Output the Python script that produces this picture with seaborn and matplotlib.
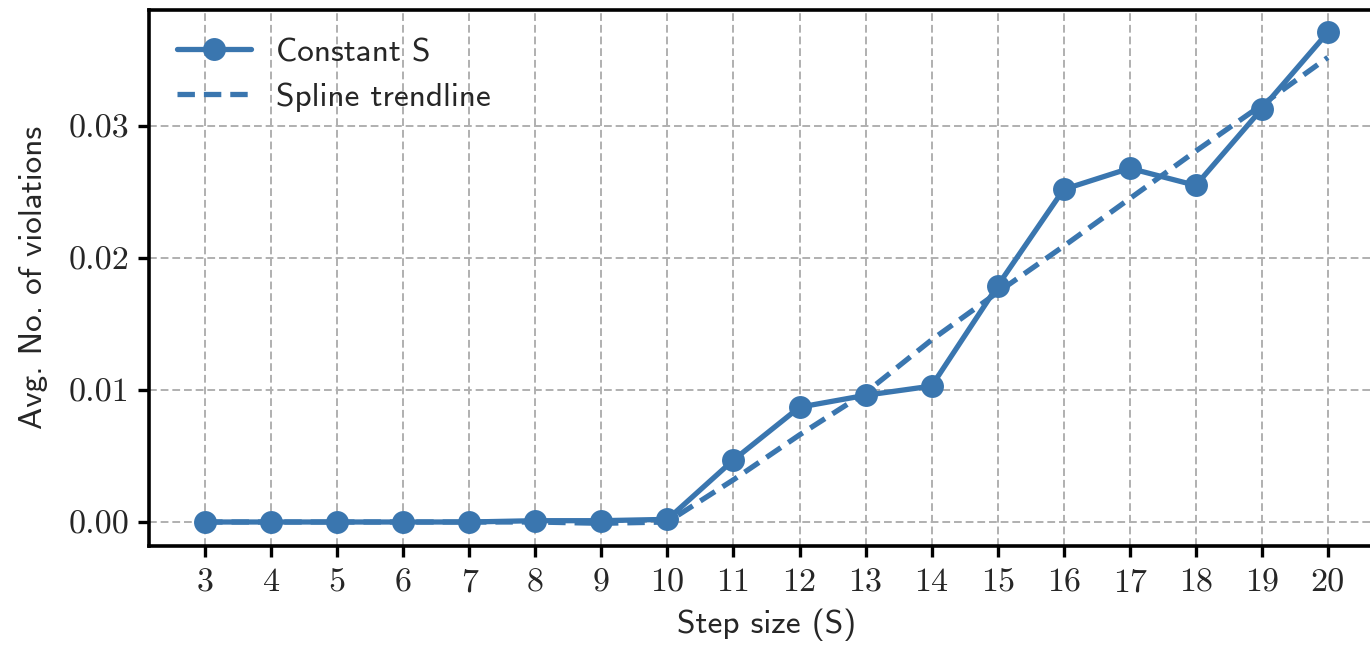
import matplotlib
matplotlib.use("Agg")
import matplotlib.pyplot as plt
import seaborn as sns
import pandas as pd

# ---- data ----
step_sizes = [3, 4, 5, 6, 7, 8, 9, 10, 11, 12, 13, 14, 15, 16, 17, 18, 19, 20]
constant_s = [0.0000, 0.0000, 0.0000, 0.0000, 0.0000, 0.0001, 0.0001, 0.0002,
              0.0047, 0.0087, 0.0096, 0.0103, 0.0179, 0.0252, 0.0268, 0.0255,
              0.0313, 0.0371]
spline_trend = [0.0000, 0.0000, 0.0000, 0.0000, 0.0000, 0.0000, -0.0001, 0.0000,
                0.0032, 0.0066, 0.0098, 0.0138, 0.0174, 0.0209, 0.0245, 0.0281,
                0.0316, 0.0352]
y_ticks = [0.00, 0.01, 0.02, 0.03]
y_tick_labels = ["0.00", "0.01", "0.02", "0.03"]
x_tick_labels = [str(s) for s in step_sizes]
series_labels = ["Constant S", "Spline trendline"]

sns.set_style("white")
plt.rcParams["axes.formatter.use_mathtext"] = True

color = "#3a76af"
W, H = 1370, 649
fig = plt.figure(figsize=(W / 100, H / 100), dpi=100)

left_px, right_px = 149, 149 + 1235
top_px, bottom_px = 9.5, 546
ax = fig.add_axes([left_px / W, (H - bottom_px) / H,
                   (right_px - left_px) / W, (bottom_px - top_px) / H])

df = pd.DataFrame({"S": step_sizes, "c": constant_s, "sp": spline_trend})
sns.lineplot(data=df, x="S", y="c", ax=ax, color=color, lw=3.8, marker="o",
             markersize=16.5, markeredgewidth=0, label=series_labels[0], zorder=3)
sns.lineplot(data=df, x="S", y="sp", ax=ax, color=color, lw=3.8,
             label=series_labels[1], zorder=2)
ax.lines[1].set_linestyle((0, (3.3, 1.7)))

ax.set_xlim(2.15, 20.85)
ax.set_ylim(-0.001818, 0.03883)
ax.set_xticks(step_sizes)
ax.set_xticklabels(x_tick_labels, fontfamily="cmr10", fontsize=24.5)
ax.set_yticks(y_ticks)
ax.set_yticklabels(y_tick_labels, fontfamily="cmr10", fontsize=24.5)
ax.tick_params(axis="both", direction="out", length=8, width=2.4, color="black",
               left=True, bottom=True)
ax.tick_params(axis="x", pad=8)
ax.tick_params(axis="y", pad=6)

ax.grid(True, color="#b0b0b0", linestyle=(0, (4, 2)), linewidth=1.4)
ax.set_axisbelow(True)
for side in ["left", "bottom", "top", "right"]:
    ax.spines[side].set_color("black")
    ax.spines[side].set_linewidth(2.6)
    ax.spines[side].set_visible(True)

ax.set_xlabel("Step size (S)", fontfamily="cmss10", fontsize=24, labelpad=8)
ax.set_ylabel("Avg. No. of violations", fontfamily="cmss10", fontsize=24, labelpad=15)

leg = ax.legend(loc="upper left", frameon=False, handlelength=2.2,
                prop={"family": "cmss10", "size": 24}, borderaxespad=0.45,
                labelspacing=0.45, handletextpad=0.75)

fig.savefig("out.png", dpi=100)
